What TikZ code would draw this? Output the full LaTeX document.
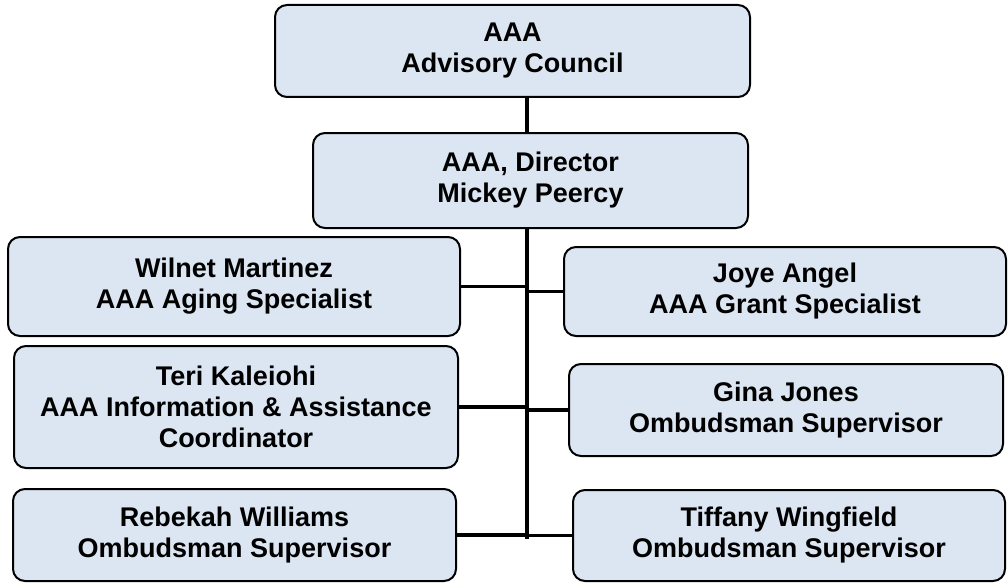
\documentclass[tikz,border=0pt]{standalone}
\usepackage{fontspec}
\setmainfont{Liberation Sans}
\usepackage{xcolor}
\definecolor{boxFill}{HTML}{DCE6F2}
\usetikzlibrary{positioning}

\begin{document}
\begin{tikzpicture}[
    x=1pt, y=-1pt,
    orgBox/.style={draw=black, fill=boxFill, line width=2pt, rounded corners=12pt, inner sep=2pt, align=center, font=\bfseries\fontsize{27}{31}\selectfont},
    linkLine/.style={line width=3.5pt}
]
\useasboundingbox (0,0) rectangle (1008,583);

\node[orgBox, minimum width=475pt, minimum height=92pt] (council) at (512.5,51) {AAA\\Advisory Council};
\node[orgBox, minimum width=435pt, minimum height=95pt] (director) at (530.5,180.5) {AAA, Director\\Mickey Peercy};

% left column
\node[orgBox, minimum width=452pt, minimum height=99pt] (wilnet) at (234,286.5) {Wilnet Martinez\\AAA Aging Specialist};
\node[orgBox, minimum width=444pt, minimum height=122pt] (teri) at (236,407) {Teri Kaleiohi\\AAA Information \& Assistance\\Coordinator};
\node[orgBox, minimum width=443pt, minimum height=92pt] (rebekah) at (234.5,535) {Rebekah Williams\\Ombudsman Supervisor};

% right column
\node[orgBox, minimum width=442pt, minimum height=89pt] (joye) at (785,291.5) {Joye Angel\\AAA Grant Specialist};
\node[orgBox, minimum width=434pt, minimum height=92pt] (gina) at (786,410) {Gina Jones\\Ombudsman Supervisor};
\node[orgBox, minimum width=432pt, minimum height=91pt] (tiffany) at (789,535.5) {Tiffany Wingfield\\Ombudsman Supervisor};

% trunk
\coordinate (trunk) at (527,539);
\draw[linkLine] (council.south -| trunk) -- (director.north -| trunk);
\draw[linkLine] (director.south -| trunk) -- (trunk);

% branches
\draw[linkLine] (wilnet.east) -- (wilnet.east -| trunk);
\draw[linkLine] (teri.east) -- (teri.east -| trunk);
\draw[linkLine] (rebekah.east) -- (rebekah.east -| trunk);
\draw[linkLine] (joye.west) -- (joye.west -| trunk);
\draw[linkLine] (gina.west) -- (gina.west -| trunk);
\draw[linkLine] (tiffany.west) -- (tiffany.west -| trunk);

\end{tikzpicture}
\end{document}
